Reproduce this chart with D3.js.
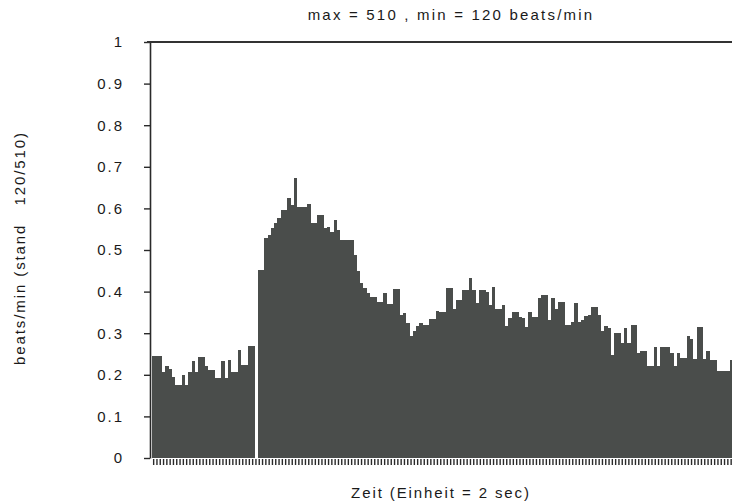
<!DOCTYPE html>
<html>
<head>
<meta charset="utf-8">
<script src="https://cdn.jsdelivr.net/npm/d3@7"></script>
<style>
  body { margin: 0; background: #fff; }
  text { font-family: 'Liberation Sans', Arial, sans-serif; fill: #1a1a1a; }
</style>
</head>
<body>
<div id="divChart"></div>
<script>
// standardised heart rate per time unit (1 unit = 2 sec)
var barValues = [
  0.245, 0.245, 0.245, 0.207, 0.22, 0.213, 0.195, 0.175, 0.175, 0.20,
  0.175, 0.207, 0.233, 0.207, 0.243, 0.243, 0.22, 0.212, 0.212, 0.192,
  0.192, 0.233, 0.192, 0.235, 0.207, 0.207, 0.26, 0.223, 0.223, 0.27,
  0.27, 0, 0.452, 0.452, 0.528, 0.536, 0.553, 0.565, 0.577, 0.596,
  0.596, 0.625, 0.608, 0.673, 0.604, 0.604, 0.604, 0.61, 0.566, 0.566,
  0.584, 0.584, 0.552, 0.555, 0.544, 0.572, 0.548, 0.524, 0.524, 0.524,
  0.524, 0.488, 0.45, 0.42, 0.408, 0.397, 0.388, 0.388, 0.376, 0.376,
  0.397, 0.37, 0.37, 0.406, 0.406, 0.344, 0.349, 0.324, 0.293, 0.305,
  0.317, 0.325, 0.32, 0.32, 0.333, 0.333, 0.354, 0.352, 0.352, 0.408,
  0.408, 0.357, 0.381, 0.381, 0.405, 0.405, 0.432, 0.404, 0.372, 0.405,
  0.405, 0.40, 0.368, 0.41, 0.357, 0.357, 0.368, 0.317, 0.336, 0.352,
  0.352, 0.34, 0.336, 0.314, 0.352, 0.338, 0.338, 0.384, 0.392, 0.392,
  0.332, 0.384, 0.358, 0.376, 0.376, 0.32, 0.32, 0.328, 0.373, 0.328,
  0.332, 0.342, 0.344, 0.362, 0.362, 0.344, 0.305, 0.317, 0.312, 0.248,
  0.30, 0.30, 0.277, 0.312, 0.277, 0.32, 0.32, 0.252, 0.258, 0.258,
  0.221, 0.221, 0.266, 0.221, 0.266, 0.266, 0.266, 0.253, 0.221, 0.253,
  0.24, 0.24, 0.293, 0.285, 0.237, 0.314, 0.314, 0.237, 0.258, 0.236,
  0.236, 0.21, 0.21, 0.21, 0.21, 0.236
]
var yTickValues = [0, 0.1, 0.2, 0.3, 0.4, 0.5, 0.6, 0.7, 0.8, 0.9, 1]
var yTickLabels = ['0', '0.1', '0.2', '0.3', '0.4', '0.5', '0.6', '0.7', '0.8', '0.9', '1']
var titleText = 'max = 510 , min = 120 beats/min'
var xLabelText = 'Zeit (Einheit = 2 sec)'
var yLabelText = 'beats/min (stand   120/510)'

var chart = {}
chart.width = 732
chart.height = 503
chart.left = 150
chart.top = 42
chart.bottom = 458
chart.barWidth = 3.3

var svg = d3
  .select('#divChart')
  .append('svg')
  .attr('width', chart.width)
  .attr('height', chart.height)

// scales
var indices = barValues.map(function (d, i) { return i })
var xScale = d3.scaleBand()
  .domain(indices)
  .range([chart.left + 2, chart.left + 2 + indices.length * chart.barWidth])
  .padding(0)
var yScale = d3.scaleLinear().domain([0, 1]).range([chart.bottom, chart.top])

// bars
svg.append('g')
  .attr('id', 'g-bars')
  .selectAll('rect')
  .data(barValues)
  .enter()
  .append('rect')
  .attr('x', function (d, i) { return xScale(i) })
  .attr('y', function (d) { return yScale(d) })
  .attr('width', xScale.bandwidth() + 0.2)
  .attr('height', function (d) { return yScale(0) - yScale(d) })
  .attr('fill', '#4a4d4b')
  .attr('shape-rendering', 'crispEdges')

// one small tick per time unit below the bars
var xAxis = d3.axisBottom(xScale).tickSize(6).tickFormat('')
svg.append('g')
  .attr('id', 'g-xAxis')
  .attr('transform', 'translate(0,' + (chart.bottom + 1) + ')')
  .call(xAxis)
  .call(function (g) { g.select('.domain').remove() })
  .selectAll('line')
  .attr('stroke', '#2a2a2a')
  .attr('stroke-width', 1.4)

// y axis
var yAxis = d3.axisLeft(yScale)
  .tickValues(yTickValues)
  .tickSize(6)
  .tickSizeOuter(0)
  .tickFormat(function (d, i) { return yTickLabels[i] })
svg.append('g')
  .attr('id', 'g-yAxis')
  .attr('transform', 'translate(' + chart.left + ',0)')
  .call(yAxis)
  .call(function (g) {
    g.select('.domain').attr('stroke', '#2a2a2a').attr('stroke-width', 1.6)
    g.selectAll('line').attr('stroke', '#2a2a2a').attr('stroke-width', 1.4)
  })
  .selectAll('text')
  .attr('x', -26)
  .attr('font-size', 15)
  .attr('letter-spacing', '2px')
  .style('font-family', "'Liberation Sans', Arial, sans-serif")
  .style('fill', '#1a1a1a')

// frame line on top
svg.append('line')
  .attr('x1', chart.left - 3)
  .attr('x2', chart.width)
  .attr('y1', yScale(1))
  .attr('y2', yScale(1))
  .attr('stroke', '#333')
  .attr('stroke-width', 2)

// title and axis labels
svg.append('text')
  .attr('x', 451)
  .attr('y', 20)
  .attr('text-anchor', 'middle')
  .attr('font-size', 15)
  .attr('letter-spacing', '2.2px')
  .text(titleText)

svg.append('text')
  .attr('x', 441)
  .attr('y', 498)
  .attr('text-anchor', 'middle')
  .attr('font-size', 15)
  .attr('letter-spacing', '1.9px')
  .text(xLabelText)

svg.append('text')
  .attr('transform', 'translate(25,248) rotate(-90)')
  .attr('text-anchor', 'middle')
  .attr('font-size', 15)
  .attr('letter-spacing', '1.9px')
  .style('white-space', 'pre')
  .text(yLabelText)
</script>
</body>
</html>
